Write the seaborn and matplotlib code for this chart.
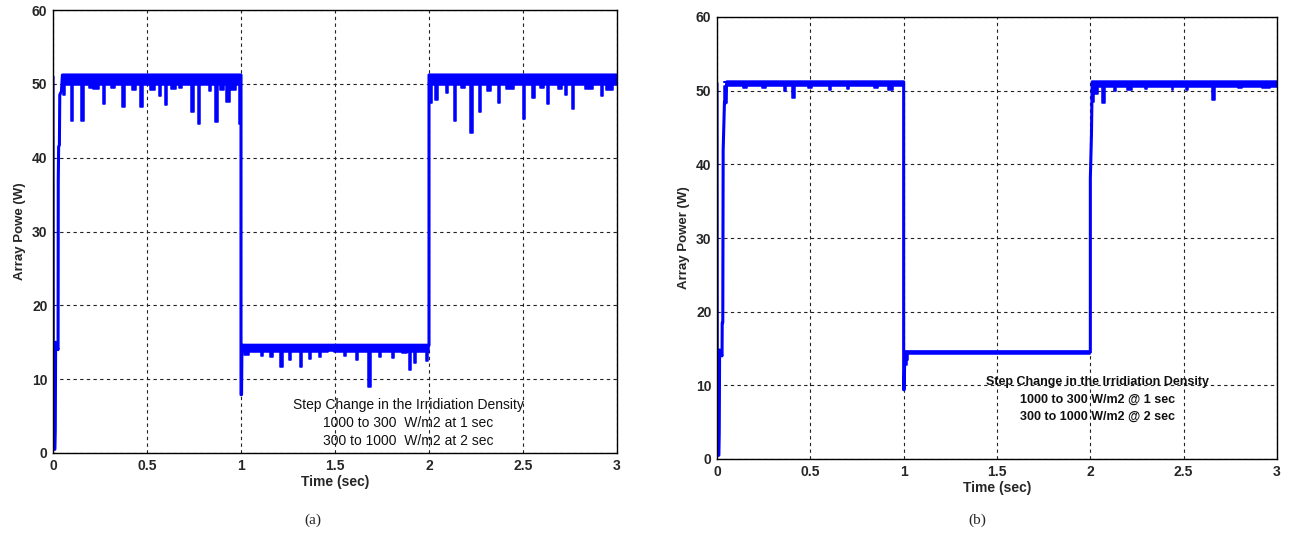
import matplotlib
matplotlib.use("Agg")
import matplotlib.pyplot as plt
import seaborn as sns

# ---------------- data ----------------
# (a) main trace: time (s) and power (W)
a_time = [0.0, 0.002, 0.010, 0.012, 0.014, 0.027, 0.028, 0.030, 0.034, 0.036, 0.045, 0.050,
          1.0, 1.0, 1.003, 1.005, 2.0, 2.0, 3.0]
a_power = [51.0, 0.5, 0.5, 3.0, 15.0, 14.0, 37.0, 41.5, 41.7, 48.5, 49.0, 51.2,
           51.2, 7.9, 7.9, 14.6, 14.6, 51.2, 51.2]
# (a) ripple band dips: (centre, width, depth)
a_hi1_dips = [(0.06, 0.010, 48.5), (0.10, 0.013, 45.0), (0.158, 0.013, 44.9), (0.20, 0.02, 49.4),
              (0.23, 0.03, 49.3), (0.27, 0.011, 47.3), (0.32, 0.02, 49.5), (0.374, 0.015, 46.9),
              (0.43, 0.02, 49.2), (0.47, 0.015, 46.9), (0.53, 0.025, 49.1), (0.57, 0.011, 48.3),
              (0.60, 0.013, 47.2), (0.64, 0.03, 49.3), (0.68, 0.015, 49.4), (0.74, 0.015, 46.2),
              (0.777, 0.011, 44.6), (0.835, 0.011, 49.0), (0.87, 0.013, 44.8), (0.90, 0.02, 49.1),
              (0.93, 0.02, 47.6), (0.96, 0.03, 49.2), (0.995, 0.008, 44.5)]
a_lo_dips = [(1.03, 0.03, 13.3), (1.11, 0.011, 13.2), (1.163, 0.013, 13.0), (1.216, 0.013, 11.7),
             (1.26, 0.011, 12.6), (1.318, 0.013, 11.6), (1.367, 0.011, 12.7), (1.42, 0.011, 13.0),
             (1.48, 0.03, 13.8), (1.553, 0.011, 13.2), (1.615, 0.011, 12.6), (1.683, 0.013, 9.0),
             (1.74, 0.011, 13.0), (1.81, 0.011, 12.9), (1.87, 0.03, 13.5), (1.90, 0.013, 11.2),
             (1.926, 0.011, 12.2), (1.99, 0.013, 12.4)]
a_hi2_dips = [(2.01, 0.015, 47.4), (2.04, 0.011, 47.8), (2.094, 0.011, 48.8), (2.138, 0.011, 44.9),
              (2.18, 0.02, 49.4), (2.227, 0.013, 43.3), (2.27, 0.011, 46.2), (2.32, 0.02, 49.0),
              (2.374, 0.011, 47.4), (2.43, 0.04, 49.3), (2.505, 0.011, 45.3), (2.555, 0.013, 48.1),
              (2.60, 0.02, 49.4), (2.634, 0.011, 47.3), (2.697, 0.02, 49.3), (2.73, 0.011, 48.5),
              (2.767, 0.011, 46.6), (2.85, 0.04, 49.3), (2.918, 0.011, 48.3), (2.96, 0.04, 49.2)]

# (b) main trace
b_time = [0.0, 0.002, 0.010, 0.012, 0.014, 0.027, 0.028, 0.031, 0.033, 0.040, 0.045, 0.052,
          1.0, 1.0, 1.003, 1.006, 2.0, 2.0, 2.003, 2.006, 2.010, 3.0]
b_power = [51.0, 0.5, 0.5, 3.5, 14.8, 14.0, 18.5, 18.5, 41.9, 48.5, 48.3, 51.2,
           51.2, 9.4, 9.4, 14.5, 14.5, 38.1, 41.0, 44.0, 51.2, 51.2]
b_hi1_dips = [(0.045, 0.012, 48.3), (0.15, 0.02, 50.4), (0.25, 0.02, 50.4), (0.364, 0.010, 50.0),
              (0.41, 0.015, 49.0), (0.50, 0.02, 50.4), (0.605, 0.010, 50.1), (0.70, 0.010, 50.2),
              (0.85, 0.02, 50.3), (0.93, 0.03, 50.1)]
b_lo_dips = [(1.013, 0.010, 12.8), (1.022, 0.006, 13.5)]
b_hi2_dips = [(2.015, 0.010, 48.5), (2.03, 0.02, 49.6), (2.07, 0.012, 48.3), (2.13, 0.010, 50.0),
              (2.21, 0.03, 50.1), (2.30, 0.010, 50.2), (2.44, 0.010, 50.1), (2.52, 0.010, 50.1),
              (2.66, 0.015, 48.7), (2.80, 0.02, 50.3), (2.94, 0.04, 50.3)]

x_ticks = [0, 0.5, 1, 1.5, 2, 2.5, 3]
x_ticklabels = ["0", "0.5", "1", "1.5", "2", "2.5", "3"]
y_ticks = [0, 10, 20, 30, 40, 50, 60]

a_note = ["Step Change in the Irridiation Density",
          "1000 to 300  W/m2 at 1 sec",
          "300 to 1000  W/m2 at 2 sec"]
b_note = ["Step Change in the Irridiation Density",
          "1000 to 300 W/m2 @ 1 sec",
          "300 to 1000 W/m2 @ 2 sec"]

BLUE = "#0000ff"

sns.set_style("white")
plt.rcParams["font.family"] = ["Liberation Sans", "DejaVu Sans"]

fig = plt.figure(figsize=(12.91, 5.35), dpi=100)
axA = fig.add_axes([53 / 1291, 1 - 453 / 535, 564 / 1291, 443 / 535])
axB = fig.add_axes([717 / 1291, 1 - 459 / 535, 560 / 1291, 442 / 535])


def band(ax, start, end, upper, base, dips):
    xs, ys = [start], [base]
    for c, w, d in dips:
        xs += [c - w / 2, c - w / 2, c + w / 2, c + w / 2]
        ys += [base, d, d, base]
    xs.append(end)
    ys.append(base)
    ax.fill_between(xs, ys, upper, color=BLUE, lw=1.1, edgecolor=BLUE)


def style(ax, ylabel, note, note_xy, note_weight, note_size, note_dy):
    ax.set_xlim(0, 3)
    ax.set_ylim(0, 60)
    ax.set_xticks(x_ticks)
    ax.set_xticklabels(x_ticklabels)
    ax.set_yticks(y_ticks)
    ax.tick_params(axis="both", labelsize=10, length=0, pad=4)
    for lab in ax.get_xticklabels() + ax.get_yticklabels():
        lab.set_fontweight("bold")
    ax.grid(True, color="#222222", linestyle=(0, (3, 3)), linewidth=0.8)
    ax.set_axisbelow(True)
    for s in ax.spines.values():
        s.set_visible(True)
        s.set_color("black")
        s.set_linewidth(1.0)
    ax.set_xlabel("Time (sec)", fontsize=10, fontweight="bold", labelpad=2)
    ax.set_ylabel(ylabel, fontsize=9.5, fontweight="bold", labelpad=4)
    x0, y0 = note_xy
    for i, line in enumerate(note):
        ax.text(x0, y0 - i * note_dy, line, ha="center", va="center",
                fontsize=note_size, fontweight=note_weight, color="#111111")


# ---- (a) ----
band(axA, 0.05, 1.0, 51.2, 49.8, a_hi1_dips)
band(axA, 1.005, 2.0, 14.6, 13.7, a_lo_dips)
band(axA, 2.0, 3.0, 51.2, 49.8, a_hi2_dips)
sns.lineplot(x=a_time, y=a_power, ax=axA, color=BLUE, linewidth=2.2, sort=False, estimator=None)
style(axA, "Array Powe (W)", a_note, (1.89, 6.5), "normal", 10, 2.45)

# ---- (b) ----
band(axB, 0.052, 1.0, 51.2, 50.6, b_hi1_dips)
band(axB, 1.006, 2.0, 14.6, 14.3, b_lo_dips)
band(axB, 2.01, 3.0, 51.2, 50.5, b_hi2_dips)
sns.lineplot(x=b_time, y=b_power, ax=axB, color=BLUE, linewidth=2.2, sort=False, estimator=None)
style(axB, "Array Power (W)", b_note, (2.04, 10.45), "bold", 9, 2.35)

fig.text(313 / 1291, 1 - 520 / 535, "(a)", ha="center", va="center", fontsize=11,
         family=["Liberation Serif", "DejaVu Serif"])
fig.text(977 / 1291, 1 - 520 / 535, "(b)", ha="center", va="center", fontsize=11,
         family=["Liberation Serif", "DejaVu Serif"])

fig.savefig("out.png", dpi=100)
